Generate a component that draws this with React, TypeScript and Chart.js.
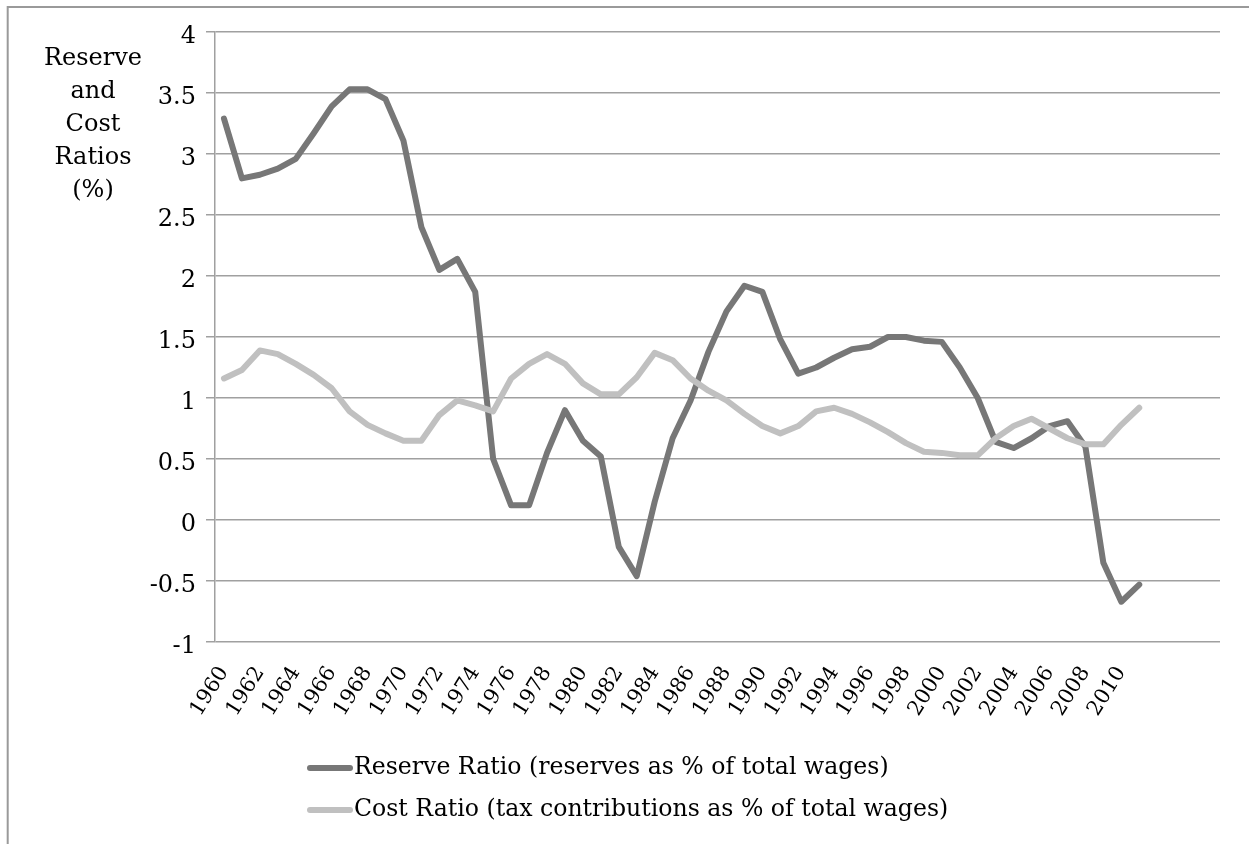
import { useEffect, useRef } from 'react';
import { Chart, registerables } from 'chart.js';

Chart.register(...registerables);

const years = [
  '1960', '1961', '1962', '1963', '1964', '1965', '1966', '1967', '1968', '1969',
  '1970', '1971', '1972', '1973', '1974', '1975', '1976', '1977', '1978', '1979',
  '1980', '1981', '1982', '1983', '1984', '1985', '1986', '1987', '1988', '1989',
  '1990', '1991', '1992', '1993', '1994', '1995', '1996', '1997', '1998', '1999',
  '2000', '2001', '2002', '2003', '2004', '2005', '2006', '2007', '2008', '2009',
  '2010', '2011',
];
// empty category slots that the original axis keeps after the last year
const spareSlots = ['', '', '', ''];

const reserveRatio = [
  3.29, 2.8, 2.83, 2.88, 2.96, 3.17, 3.39, 3.53, 3.53, 3.45,
  3.11, 2.4, 2.05, 2.14, 1.87, 0.5, 0.12, 0.12, 0.55, 0.9,
  0.65, 0.52, -0.22, -0.46, 0.15, 0.67, 0.98, 1.38, 1.71, 1.92,
  1.87, 1.48, 1.2, 1.25, 1.33, 1.4, 1.42, 1.5, 1.5, 1.47,
  1.46, 1.25, 1.0, 0.64, 0.59, 0.67, 0.77, 0.81, 0.6, -0.35,
  -0.67, -0.53,
];

const costRatio = [
  1.16, 1.23, 1.39, 1.36, 1.28, 1.19, 1.08, 0.89, 0.78, 0.71,
  0.65, 0.65, 0.86, 0.98, 0.94, 0.89, 1.16, 1.28, 1.36, 1.28,
  1.12, 1.03, 1.03, 1.17, 1.37, 1.31, 1.16, 1.06, 0.98, 0.87,
  0.77, 0.71, 0.77, 0.89, 0.92, 0.87, 0.8, 0.72, 0.63, 0.56,
  0.55, 0.53, 0.53, 0.67, 0.77, 0.83, 0.75, 0.67, 0.62, 0.62,
  0.78, 0.92,
];

const seriesNames = [
  'Reserve Ratio (reserves as % of total wages)',
  'Cost Ratio (tax contributions as % of total wages)',
];
const seriesColors = ['#777777', '#c0c0c0'];
const axisTitleLines = ['Reserve', 'and', 'Cost', 'Ratios', '(%)'];
const yMin = -1;
const yMax = 4;
const yStep = 0.5;

const FONT = '"DejaVu Serif", serif';
const GRID = '#a0a0a0';

export default function App() {
  const ref = useRef<HTMLCanvasElement | null>(null);

  useEffect(() => {
    if (!ref.current) return;

    const decor = {
      id: 'decor',
      beforeDraw(chart: any) {
        const ctx = chart.ctx;
        ctx.save();
        ctx.fillStyle = '#ffffff';
        ctx.fillRect(0, 0, chart.width, chart.height);
        ctx.strokeStyle = '#9a9a9a';
        ctx.lineWidth = 2;
        ctx.beginPath();
        ctx.moveTo(7.7, chart.height);
        ctx.lineTo(7.7, 7);
        ctx.lineTo(chart.width, 7);
        ctx.stroke();
        ctx.restore();
      },
      afterDraw(chart: any) {
        const ctx = chart.ctx;
        ctx.save();
        ctx.fillStyle = '#000000';
        ctx.font = `24px ${FONT}`;
        ctx.textAlign = 'center';
        ctx.textBaseline = 'alphabetic';
        axisTitleLines.forEach((t, i) => ctx.fillText(t, 93, 65 + i * 33));

        ctx.font = `23.6px ${FONT}`;
        ctx.textAlign = 'left';
        ctx.textBaseline = 'middle';
        chart.data.datasets.forEach((ds: any, i: number) => {
          const y = 768 + i * 42;
          ctx.strokeStyle = ds.borderColor;
          ctx.lineWidth = 6;
          ctx.lineCap = 'round';
          ctx.beginPath();
          ctx.moveTo(310, y);
          ctx.lineTo(350, y);
          ctx.stroke();
          ctx.fillStyle = '#000000';
          ctx.fillText(ds.label, 354, y);
        });
        ctx.restore();
      },
    };

    const labels = [...years, ...spareSlots];

    const chart = new Chart(ref.current, {
      type: 'line',
      data: {
        labels,
        datasets: [
          {
            label: seriesNames[0],
            data: reserveRatio,
            borderColor: seriesColors[0],
            backgroundColor: seriesColors[0],
            borderWidth: 6,
            pointRadius: 0,
            tension: 0,
            borderJoinStyle: 'round',
            borderCapStyle: 'round',
            order: 1,
          },
          {
            label: seriesNames[1],
            data: costRatio,
            borderColor: seriesColors[1],
            backgroundColor: seriesColors[1],
            borderWidth: 6,
            pointRadius: 0,
            tension: 0,
            borderJoinStyle: 'round',
            borderCapStyle: 'round',
            order: 0,
          },
        ],
      },
      options: {
        responsive: true,
        maintainAspectRatio: false,
        animation: false,
        layout: { padding: { top: 32, right: 29, left: 0, bottom: 0 } },
        plugins: {
          legend: { display: false },
          tooltip: { enabled: false },
        },
        scales: {
          x: {
            type: 'category',
            offset: true,
            grid: { display: false },
            border: { display: false },
            ticks: {
              autoSkip: false,
              minRotation: 58,
              maxRotation: 58,
              color: '#000000',
              padding: 12,
              font: { family: FONT, size: 21 },
              callback: (_v: any, i: number) => (i % 2 === 0 ? labels[i] : ''),
            },
            afterFit: (s: any) => {
              s.height = 202;
            },
          },
          y: {
            min: yMin,
            max: yMax,
            ticks: {
              stepSize: yStep,
              color: '#000000',
              padding: 10,
              labelOffset: 5,
              font: { family: FONT, size: 24 },
              callback: (v: any) => String(v),
            },
            grid: {
              color: GRID,
              lineWidth: 1.5,
              tickLength: 9,
              drawTicks: true,
            },
            border: { display: true, color: GRID, width: 1.5 },
            afterFit: (s: any) => {
              s.width = 215;
            },
          },
        },
      },
      plugins: [decor],
    });

    return () => chart.destroy();
  }, []);

  return (
    <div style={{ position: 'fixed', left: 0, top: 0, width: 1249, height: 844 }}>
      <canvas ref={ref} />
    </div>
  );
}
